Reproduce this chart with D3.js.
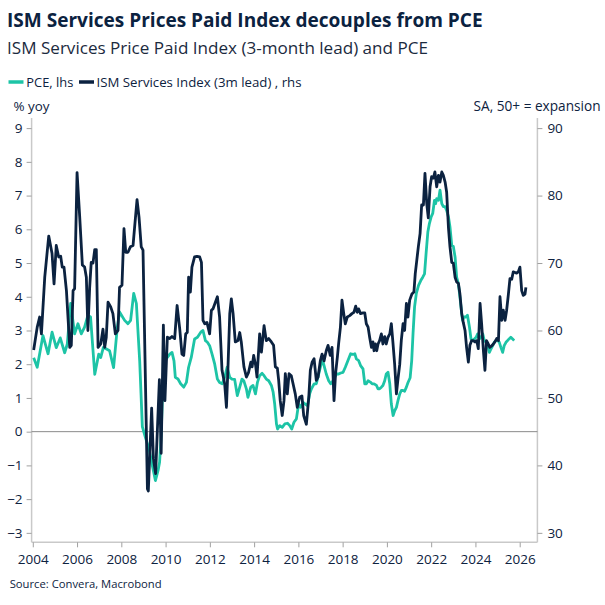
<!DOCTYPE html>
<html>
<head>
<meta charset="utf-8">
<script src="https://cdn.jsdelivr.net/npm/d3@7"></script>
<style>
  body { margin: 0; background: #fff; }
  svg { display: block; font-family: "Open Sans", "Noto Sans", sans-serif; }
  .tick text { fill: #0d2240; }
</style>
</head>
<body>
<script>
// PCE yoy (%) as [decimal year] / [value]
const pceDates = [
  2004.04, 2004.2, 2004.46, 2004.69, 2004.87, 2005.06, 2005.24, 2005.44, 2005.56, 2005.71,
  2005.89, 2006.04, 2006.19, 2006.34, 2006.49, 2006.61, 2006.8, 2006.98, 2007.07, 2007.19,
  2007.47, 2007.65, 2007.82, 2007.92, 2008.15, 2008.3, 2008.42, 2008.56, 2008.68, 2008.83,
  2008.95, 2009.1, 2009.25, 2009.4, 2009.54, 2009.66, 2009.73, 2009.8, 2009.87, 2009.96,
  2010.08, 2010.19, 2010.29, 2010.38, 2010.44, 2010.56, 2010.68, 2010.82, 2010.94, 2011.04,
  2011.16, 2011.31, 2011.44, 2011.59, 2011.69, 2011.8, 2011.89, 2011.99, 2012.1, 2012.22,
  2012.34, 2012.44, 2012.56, 2012.67, 2012.78, 2012.9, 2013.0, 2013.12, 2013.24, 2013.35,
  2013.45, 2013.54, 2013.65, 2013.72, 2013.85, 2013.95, 2014.06, 2014.15, 2014.25, 2014.36,
  2014.45, 2014.55, 2014.66, 2014.78, 2014.86, 2014.93, 2015.01, 2015.06, 2015.16, 2015.27,
  2015.39, 2015.51, 2015.61, 2015.7, 2015.8, 2015.91, 2016.01, 2016.1, 2016.21, 2016.31,
  2016.41, 2016.51, 2016.59, 2016.71, 2016.81, 2016.92, 2017.01, 2017.08, 2017.16, 2017.26,
  2017.37, 2017.46, 2017.53, 2017.64, 2017.72, 2017.82, 2017.91, 2018.02, 2018.12, 2018.24,
  2018.36, 2018.47, 2018.55, 2018.62, 2018.72, 2018.81, 2018.92, 2019.0, 2019.07, 2019.15,
  2019.25, 2019.33, 2019.42, 2019.53, 2019.6, 2019.67, 2019.75, 2019.82, 2019.9, 2019.97,
  2020.05, 2020.13, 2020.2, 2020.28, 2020.35, 2020.43, 2020.5, 2020.58, 2020.65, 2020.73,
  2020.8, 2020.88, 2020.95, 2021.05, 2021.12, 2021.18, 2021.25, 2021.33, 2021.43, 2021.53,
  2021.62, 2021.7, 2021.77, 2021.85, 2021.92, 2022.0, 2022.07, 2022.15, 2022.2, 2022.25,
  2022.33, 2022.4, 2022.48, 2022.55, 2022.63, 2022.7, 2022.78, 2022.85, 2022.93, 2023.0,
  2023.08, 2023.15, 2023.23, 2023.3, 2023.38, 2023.42, 2023.48, 2023.57, 2023.64, 2023.73,
  2023.8, 2023.88, 2023.95, 2024.03, 2024.1, 2024.18, 2024.25, 2024.33, 2024.4, 2024.48,
  2024.55, 2024.63, 2024.7, 2024.78, 2024.85, 2024.93, 2025.0, 2025.08, 2025.15, 2025.23,
  2025.3, 2025.38, 2025.45, 2025.52, 2025.6, 2025.68, 2025.75
];
const pceValues = [
  2.19, 1.91, 2.85, 2.31, 2.95, 2.49, 2.78, 2.34, 2.6, 3.8,
  2.9, 3.2, 2.9, 3.1, 3.45, 3.4, 1.7, 2.3, 2.2, 2.5,
  2.4, 1.9, 3.1, 3.55, 3.3, 3.2, 3.3, 4.1, 3.8, 2.1,
  0.15, -0.2, -0.5, -1.0, -1.45, -1.15, -0.9, -0.1, 1.3, 2.1,
  2.2, 2.3, 2.35, 2.1, 1.61, 1.56, 1.42, 1.32, 1.46, 1.91,
  2.2, 2.75, 2.8, 2.95, 3.0, 2.7, 2.65, 2.55, 2.3, 2.0,
  1.56, 1.46, 1.42, 1.61, 1.91, 1.61, 1.56, 1.55, 1.07, 1.32,
  1.56, 1.5, 1.27, 1.02, 1.32, 1.37, 1.12, 1.46, 1.66, 1.73,
  1.66, 1.56, 1.51, 1.37, 1.17, 0.82, 0.23, 0.08, 0.18, 0.13,
  0.23, 0.25, 0.18, 0.08, 0.28, 0.38, 0.82, 0.72, 0.87, 0.82,
  0.77, 1.12, 1.27, 1.42, 1.42, 1.71, 1.96, 2.16, 1.96, 1.71,
  1.51, 1.42, 1.47, 1.61, 1.71, 1.71, 1.74, 1.76, 1.91, 2.11,
  2.31, 2.29, 2.31, 2.16, 2.11, 1.96, 1.86, 1.42, 1.42, 1.51,
  1.47, 1.42, 1.42, 1.37, 1.27, 1.27, 1.32, 1.37, 1.51, 1.71,
  1.76, 1.42, 0.82, 0.48, 0.62, 0.72, 0.92, 1.12, 1.22, 1.22,
  1.2, 1.32, 1.45, 1.6, 2.1, 2.9, 3.7, 4.1, 4.34, 4.48,
  4.58, 4.68, 5.28, 5.92, 6.17, 6.37, 6.47, 6.86, 6.76, 6.91,
  6.86, 7.16, 6.76, 6.67, 6.67, 6.56, 6.37, 6.07, 5.52, 5.5,
  5.18, 4.58, 4.39, 3.99, 3.5, 3.3, 3.4, 3.4, 3.45, 3.1,
  2.75, 2.7, 2.75, 2.8, 2.9, 2.75, 2.8, 2.9, 2.7, 2.65,
  2.6, 2.35, 2.45, 2.55, 2.65, 2.7, 2.7, 2.65, 2.5, 2.35,
  2.55, 2.65, 2.7, 2.75, 2.8, 2.75, 2.7
];

// ISM services prices paid (index, 3m lead)
const ismDates = [
  2004.04, 2004.2, 2004.31, 2004.39, 2004.54, 2004.72, 2004.87, 2004.96, 2005.06, 2005.17,
  2005.26, 2005.33, 2005.41, 2005.52, 2005.67, 2005.74, 2005.82, 2005.89, 2006.0, 2006.12,
  2006.24, 2006.34, 2006.42, 2006.49, 2006.57, 2006.64, 2006.72, 2006.8, 2006.87, 2006.95,
  2007.07, 2007.17, 2007.25, 2007.32, 2007.4, 2007.52, 2007.62, 2007.73, 2007.85, 2007.92,
  2008.03, 2008.12, 2008.2, 2008.3, 2008.41, 2008.53, 2008.6, 2008.71, 2008.8, 2008.9,
  2008.98, 2009.18, 2009.22, 2009.37, 2009.45, 2009.55, 2009.72, 2009.8, 2009.9, 2009.97,
  2010.08, 2010.19, 2010.29, 2010.41, 2010.52, 2010.64, 2010.74, 2010.82, 2010.91, 2010.98,
  2011.04, 2011.12, 2011.19, 2011.31, 2011.42, 2011.54, 2011.62, 2011.69, 2011.77, 2011.87,
  2011.99, 2012.07, 2012.14, 2012.25, 2012.34, 2012.44, 2012.55, 2012.67, 2012.75, 2012.82,
  2012.9, 2012.97, 2013.05, 2013.15, 2013.27, 2013.35, 2013.42, 2013.54, 2013.65, 2013.75,
  2013.85, 2013.91, 2013.98, 2014.07, 2014.13, 2014.25, 2014.33, 2014.45, 2014.55, 2014.66,
  2014.78, 2014.88, 2014.96, 2015.05, 2015.11, 2015.18, 2015.27, 2015.35, 2015.41, 2015.5,
  2015.58, 2015.68, 2015.76, 2015.86, 2015.95, 2016.06, 2016.16, 2016.24, 2016.36, 2016.47,
  2016.54, 2016.62, 2016.71, 2016.81, 2016.89, 2016.99, 2017.07, 2017.16, 2017.26, 2017.34,
  2017.44, 2017.52, 2017.61, 2017.68, 2017.76, 2017.82, 2017.9, 2017.97, 2018.05, 2018.12,
  2018.21, 2018.32, 2018.42, 2018.51, 2018.59, 2018.66, 2018.72, 2018.81, 2018.92, 2019.0,
  2019.07, 2019.15, 2019.22, 2019.3, 2019.37, 2019.42, 2019.48, 2019.54, 2019.6, 2019.67,
  2019.75, 2019.82, 2019.9, 2019.97, 2020.05, 2020.13, 2020.2, 2020.27, 2020.35, 2020.43,
  2020.5, 2020.58, 2020.65, 2020.73, 2020.8, 2020.88, 2020.95, 2021.03, 2021.13, 2021.22,
  2021.28, 2021.35, 2021.42, 2021.5, 2021.57, 2021.65, 2021.72, 2021.8, 2021.87, 2021.95,
  2022.02, 2022.1, 2022.17, 2022.25, 2022.33, 2022.4, 2022.48, 2022.55, 2022.63, 2022.7,
  2022.78, 2022.85, 2022.93, 2023.0, 2023.08, 2023.15, 2023.23, 2023.3, 2023.38, 2023.45,
  2023.53, 2023.6, 2023.68, 2023.75, 2023.83, 2023.9, 2023.98, 2024.06, 2024.13, 2024.21,
  2024.28, 2024.36, 2024.43, 2024.5, 2024.58, 2024.65, 2024.73, 2024.81, 2024.88, 2024.96,
  2025.04, 2025.11, 2025.19, 2025.26, 2025.34, 2025.41, 2025.49, 2025.56, 2025.64, 2025.71,
  2025.79, 2025.86, 2025.94, 2026.01, 2026.09, 2026.16, 2026.24, 2026.28
];
const ismValues = [
  57.1, 60.5, 62, 59.5, 67.9, 74, 71.4, 66.9, 72.6, 70.9,
  71, 69.4, 69.4, 65.9, 57.5, 57.8, 65.9, 66.2, 83.4, 76.8,
  69.7, 69.4, 67.9, 60, 66.4, 70.1, 70, 72, 72, 57.5,
  58, 60.2, 57.5, 59, 64.2, 63.5, 62.5, 59.5, 60, 66.4,
  66.7, 75.1, 71.6, 71.6, 72.4, 72.6, 75.3, 79.4, 76.8, 72.4,
  71.9, 36.5, 36.2, 48.5, 41, 38.8, 52.7, 41.8, 60.8, 49.6,
  59, 58.8, 59.1, 58.8, 63.7, 60.2, 56.5, 56.3, 59.5, 59.7,
  67.9, 65.7, 69.4, 70.9, 71, 70.9, 70.1, 61.5, 61, 61.2,
  59.5, 63, 63.2, 64.2, 65, 62, 54.1, 52.1, 48.6, 54.6,
  62.5, 64.7, 62.5, 58.3, 58.5, 59.7, 58.3, 54.6, 53.1, 53.8,
  55.3, 54.6, 56.3, 54.8, 53.1, 59.5, 56.8, 60.7, 58.5, 58.8,
  58.3, 57.8, 54.6, 54.4, 52.6, 49.6, 47.4, 49.6, 53.6, 50.6,
  53.6, 53.3, 52.1, 50.6, 48.6, 50.1, 50.3, 47.4, 46.1, 50.1,
  54.1, 55.3, 55.8, 52.6, 53.1, 55.5, 56.5, 55.5, 57, 57.8,
  56.3, 57.5, 49.6, 53.6, 56, 58.1, 60.5, 64.5, 62.5, 61,
  62, 62.2, 62.5, 62.7, 63.6, 62.7, 63.2, 62.5, 62.6, 62.6,
  61, 60.5, 59, 57.5, 58.3, 57, 58, 57, 58, 58.5,
  59.5, 58, 59.1, 58, 59, 59.5, 61, 58.3, 55, 50.6,
  52.8, 55, 58.5, 61, 60, 64, 62, 64.5, 65.4, 65.7,
  68.4, 70.4, 72.4, 74.4, 78.6, 78.6, 83.3, 78.8, 76.7, 81.3,
  82.8, 82.6, 83.5, 81.3, 83, 82, 83.5, 83, 82, 80.5,
  75.3, 72.4, 70.1, 70, 67.9, 67.2, 67, 65.4, 62.5, 61.2,
  60, 57.5, 55.3, 57.8, 58.5, 58.5, 58.3, 58.5, 57.3, 64,
  61, 57, 54.1, 58.5, 58, 57.5, 57.7, 58, 58.3, 58.8,
  58.5, 65, 61.5, 63, 61.5, 63, 65.4, 67.7, 67.6, 68.7,
  68.6, 68.5, 68.7, 69.4, 65.9, 65.2, 65.4, 66.4
];

const xTickYears = d3.range(2004, 2027, 2);
const leftTicks = d3.range(-3, 10, 1);
const rightTicks = d3.range(30, 100, 10);

const teal = "#1dc4a6";
const navy = "#0b2240";
const axisGrey = "#c9c9c9";
const textColor = "#0d2240";

const width = 605, height = 605;
const plot = { left: 31.6, right: 537.4, top: 118, bottom: 542.3 };

const svg = d3.select("body").append("svg")
  .attr("width", width)
  .attr("height", height);

svg.append("rect").attr("width", width).attr("height", height).attr("fill", "#fff");

// scales
const x = d3.scaleLinear().domain([2003.946, 2026.8]).range([plot.left, plot.right]);
const yLeft = d3.scaleLinear().domain([-3.28, 9.3]).range([plot.bottom, plot.top]);
const yRight = d3.scaleLinear().domain([28.6, 91.5]).range([plot.bottom, plot.top]);

// fit a text element to a measured width by changing its font size
function fitWidth(sel, target) {
  const node = sel.node();
  const w = node.getComputedTextLength();
  const fs = parseFloat(sel.attr("font-size"));
  sel.attr("font-size", (fs * target / w).toFixed(2));
}

// titles
const title = svg.append("text")
  .attr("x", 7).attr("y", 27)
  .attr("font-size", 20).attr("font-weight", 700)
  .attr("fill", navy)
  .text("ISM Services Prices Paid Index decouples from PCE");
fitWidth(title, 476);

const subtitle = svg.append("text")
  .attr("x", 7).attr("y", 54)
  .attr("font-size", 16)
  .attr("fill", "#1b2a3e")
  .text("ISM Services Price Paid Index (3-month lead) and PCE");
fitWidth(subtitle, 421);

// legend
const legendItems = [
  { label: "PCE, lhs", color: teal, sx: 8.5, tx: 26.3, w: 47 },
  { label: "ISM Services Index (3m lead) , rhs", color: navy, sx: 79, tx: 96.5, w: 205 }
];
const legend = svg.append("g").attr("class", "legend");
legendItems.forEach(it => {
  legend.append("line")
    .attr("x1", it.sx).attr("x2", it.sx + 15)
    .attr("y1", 82).attr("y2", 82)
    .attr("stroke", it.color).attr("stroke-width", 3.5);
  const t = legend.append("text")
    .attr("x", it.tx).attr("y", 87)
    .attr("font-size", 13).attr("fill", textColor)
    .text(it.label);
  fitWidth(t, it.w);
});

// axis unit labels
const lUnit = svg.append("text")
  .attr("x", 13.5).attr("y", 111)
  .attr("font-size", 13).attr("fill", textColor)
  .text("% yoy");
fitWidth(lUnit, 36);
const rUnit = svg.append("text")
  .attr("x", 600.5).attr("y", 111)
  .attr("text-anchor", "end")
  .attr("font-size", 13).attr("fill", textColor)
  .text("SA, 50+ = expansion");
fitWidth(rUnit, 127);

// axes
const xAxis = svg.append("g")
  .attr("transform", `translate(0,${plot.bottom})`)
  .call(d3.axisBottom(x).tickValues(xTickYears).tickFormat(d3.format("d")).tickSize(5).tickPadding(4));

const leftAxis = svg.append("g")
  .attr("transform", `translate(${plot.left},0)`)
  .call(d3.axisLeft(yLeft).tickValues(leftTicks).tickSize(5).tickPadding(4));

const rightAxis = svg.append("g")
  .attr("transform", `translate(${plot.right},0)`)
  .call(d3.axisRight(yRight).tickValues(rightTicks).tickSize(5).tickPadding(5));

[xAxis, leftAxis, rightAxis].forEach(g => {
  g.selectAll(".domain").attr("stroke", axisGrey).attr("stroke-width", 1.5);
  g.selectAll(".tick line").attr("stroke", "#a0a0a0");
  g.selectAll(".tick text").attr("font-size", 13.5).attr("font-family", "'Open Sans', sans-serif");
});
xAxis.selectAll(".tick text").attr("dy", "0.95em");
// draw domains as plain lines (no outer ticks)
xAxis.select(".domain").attr("d", `M${plot.left},0H${plot.right}`);
leftAxis.select(".domain").attr("d", `M0,${plot.top}V${plot.bottom}`);
rightAxis.select(".domain").attr("d", `M0,${plot.top}V${plot.bottom}`);

// zero line
svg.append("line")
  .attr("x1", plot.left).attr("x2", plot.right)
  .attr("y1", yLeft(0)).attr("y2", yLeft(0))
  .attr("stroke", "#8a8a8a").attr("stroke-width", 1);

// series
const pceData = pceDates.map((d, i) => [d, pceValues[i]]);
const ismData = ismDates.map((d, i) => [d, ismValues[i]]);

svg.append("path")
  .datum(pceData)
  .attr("fill", "none")
  .attr("stroke", teal)
  .attr("stroke-width", 2.8)
  .attr("stroke-linejoin", "round")
  .attr("d", d3.line().x(d => x(d[0])).y(d => yLeft(d[1])));

svg.append("path")
  .datum(ismData)
  .attr("fill", "none")
  .attr("stroke", navy)
  .attr("stroke-width", 2.8)
  .attr("stroke-linejoin", "round")
  .attr("d", d3.line().x(d => x(d[0])).y(d => yRight(d[1])));

// source
const src = svg.append("text")
  .attr("x", 9.7).attr("y", 588)
  .attr("font-size", 12).attr("fill", textColor)
  .text("Source: Convera, Macrobond");
fitWidth(src, 152);
</script>
</body>
</html>
